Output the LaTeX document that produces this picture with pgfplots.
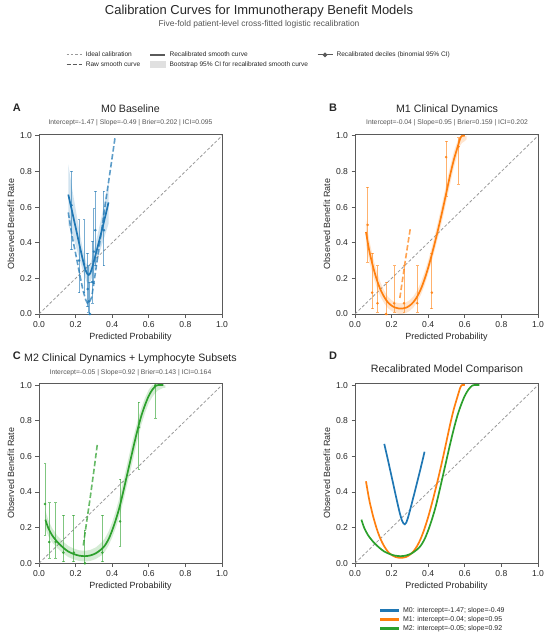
\documentclass[border=0pt]{standalone}
\usepackage{pgfplots}
\pgfplotsset{compat=1.18}
\usepackage{pgfplotstable}
\usepackage{fontspec}
\setmainfont{Liberation Sans}

\definecolor{cA}{HTML}{1F77B4}
\definecolor{cB}{HTML}{FF7F0E}
\definecolor{cC}{HTML}{2CA02C}
\definecolor{axgray}{HTML}{5A5A5A}
\definecolor{txt}{HTML}{262626}
\definecolor{subtxt}{HTML}{555555}
\definecolor{diaggray}{HTML}{9A9A9A}

% ---------- data ----------
\pgfplotstableread{
x y
0.160 0.670
0.170 0.625
0.180 0.580
0.190 0.533
0.200 0.487
0.210 0.440
0.220 0.393
0.230 0.347
0.240 0.302
0.250 0.262
0.258 0.237
0.265 0.224
0.272 0.219
0.280 0.228
0.290 0.258
0.300 0.295
0.310 0.335
0.320 0.375
0.330 0.415
0.340 0.456
0.350 0.497
0.360 0.539
0.370 0.582
0.380 0.626
}\recA
\pgfplotstableread{
x y
0.160 0.840
0.180 0.710
0.200 0.590
0.220 0.470
0.240 0.360
0.260 0.280
0.270 0.270
0.280 0.280
0.300 0.355
0.320 0.445
0.340 0.536
0.360 0.639
0.380 0.746
0.380 0.506
0.360 0.439
0.340 0.376
0.320 0.305
0.300 0.235
0.280 0.178
0.270 0.168
0.260 0.180
0.240 0.242
0.220 0.313
0.200 0.387
0.180 0.450
0.160 0.500
}\bandA
\pgfplotstableread{
x y
0.160 0.570
0.180 0.440
0.200 0.340
0.220 0.235
0.240 0.135
0.255 0.080
0.265 0.060
0.275 0.065
0.288 0.095
0.300 0.175
0.320 0.315
0.340 0.455
0.360 0.600
0.380 0.740
0.400 0.880
0.417 1.000
}\rawA
\pgfplotstableread{
x y lo hi
0.178 0.61 0.36 0.80
0.219 0.30 0.12 0.53
0.246 0.28 0.12 0.53
0.266 0.14 0.04 0.34
0.272 0.07 0.01 0.27
0.278 0.00 0.00 0.18
0.291 0.18 0.06 0.41
0.300 0.35 0.17 0.59
0.308 0.47 0.27 0.69
0.355 0.47 0.27 0.69
}\decA
\pgfplotstableread{
x y
0.178 0.36
0.178 0.80
nan nan
0.219 0.12
0.219 0.53
nan nan
0.246 0.12
0.246 0.53
nan nan
0.266 0.04
0.266 0.34
nan nan
0.272 0.01
0.272 0.27
nan nan
0.278 0.00
0.278 0.18
nan nan
0.291 0.06
0.291 0.41
nan nan
0.300 0.17
0.300 0.59
nan nan
0.308 0.27
0.308 0.69
nan nan
0.355 0.27
0.355 0.69
}\errA

\pgfplotstableread{
x y
0.060 0.460
0.070 0.400
0.080 0.345
0.100 0.260
0.120 0.190
0.140 0.135
0.160 0.095
0.180 0.065
0.200 0.047
0.220 0.036
0.240 0.031
0.260 0.031
0.280 0.036
0.300 0.048
0.320 0.068
0.340 0.098
0.360 0.140
0.380 0.195
0.400 0.260
0.420 0.335
0.440 0.415
0.460 0.500
0.480 0.590
0.500 0.685
0.520 0.780
0.540 0.865
0.560 0.935
0.575 0.985
0.585 1.000
0.600 1.000
}\recB
\pgfplotstableread{
x y
0.060 0.530
0.070 0.465
0.080 0.405
0.100 0.310
0.120 0.235
0.140 0.175
0.160 0.130
0.180 0.097
0.200 0.077
0.220 0.066
0.240 0.061
0.260 0.061
0.280 0.066
0.300 0.078
0.320 0.100
0.340 0.133
0.360 0.177
0.380 0.234
0.400 0.300
0.420 0.377
0.440 0.460
0.460 0.547
0.480 0.638
0.500 0.735
0.520 0.828
0.540 0.910
0.560 0.970
0.575 1.000
0.610 1.000
0.610 0.980
0.600 0.970
0.585 0.960
0.575 0.945
0.560 0.895
0.540 0.820
0.520 0.730
0.500 0.635
0.480 0.540
0.460 0.455
0.440 0.375
0.420 0.298
0.400 0.225
0.380 0.160
0.360 0.107
0.340 0.068
0.320 0.038
0.300 0.018
0.280 0.006
0.260 0.001
0.240 0.001
0.220 0.006
0.200 0.017
0.180 0.033
0.160 0.060
0.140 0.095
0.120 0.145
0.100 0.210
0.080 0.285
0.070 0.335
0.060 0.390
}\bandB
\pgfplotstableread{
x y
0.245 0.090
0.260 0.195
0.275 0.300
0.290 0.400
0.303 0.485
}\rawB
\pgfplotstableread{
x y lo hi
0.069 0.50 0.29 0.71
0.094 0.12 0.03 0.34
0.123 0.06 0.01 0.27
0.170 0.00 0.00 0.18
0.214 0.06 0.01 0.27
0.268 0.06 0.01 0.27
0.340 0.06 0.01 0.27
0.420 0.12 0.03 0.34
0.498 0.88 0.66 0.97
0.565 0.94 0.73 0.99
}\decB
\pgfplotstableread{
x y
0.069 0.29
0.069 0.71
nan nan
0.094 0.03
0.094 0.34
nan nan
0.123 0.01
0.123 0.27
nan nan
0.170 0.00
0.170 0.18
nan nan
0.214 0.01
0.214 0.27
nan nan
0.268 0.01
0.268 0.27
nan nan
0.340 0.01
0.340 0.27
nan nan
0.420 0.03
0.420 0.34
nan nan
0.498 0.66
0.498 0.97
nan nan
0.565 0.73
0.565 0.99
}\errB

\pgfplotstableread{
x y
0.035 0.245
0.050 0.200
0.070 0.160
0.100 0.120
0.130 0.090
0.160 0.066
0.190 0.052
0.220 0.043
0.250 0.040
0.280 0.044
0.310 0.056
0.340 0.078
0.360 0.100
0.380 0.135
0.400 0.185
0.420 0.245
0.440 0.315
0.460 0.400
0.480 0.490
0.500 0.580
0.520 0.670
0.540 0.755
0.560 0.830
0.580 0.890
0.600 0.940
0.620 0.975
0.640 0.997
0.650 1.000
0.680 1.000
}\recC
\pgfplotstableread{
x y
0.035 0.295
0.050 0.245
0.070 0.200
0.100 0.155
0.130 0.123
0.160 0.098
0.190 0.083
0.220 0.073
0.250 0.070
0.280 0.075
0.310 0.089
0.340 0.115
0.360 0.140
0.380 0.178
0.400 0.230
0.420 0.295
0.440 0.370
0.460 0.460
0.480 0.550
0.500 0.640
0.520 0.725
0.540 0.805
0.560 0.875
0.580 0.930
0.600 0.975
0.620 1.000
0.690 1.000
0.690 0.985
0.680 0.985
0.650 0.970
0.640 0.960
0.620 0.935
0.600 0.900
0.580 0.845
0.560 0.780
0.540 0.700
0.520 0.610
0.500 0.520
0.480 0.435
0.460 0.345
0.440 0.265
0.420 0.200
0.400 0.145
0.380 0.100
0.360 0.065
0.340 0.043
0.310 0.024
0.280 0.013
0.250 0.010
0.220 0.013
0.190 0.022
0.160 0.035
0.130 0.057
0.100 0.085
0.070 0.120
0.050 0.155
0.035 0.195
}\bandC
\pgfplotstableread{
x y
0.242 0.100
0.260 0.230
0.280 0.370
0.300 0.520
0.319 0.670
}\rawC
\pgfplotstableread{
x y lo hi
0.033 0.333 0.157 0.559
0.056 0.120 0.030 0.340
0.091 0.120 0.030 0.340
0.133 0.060 0.010 0.270
0.190 0.060 0.010 0.270
0.251 0.000 0.000 0.185
0.346 0.060 0.010 0.270
0.443 0.235 0.096 0.472
0.546 0.763 0.528 0.904
0.636 1.000 0.815 1.000
}\decC
\pgfplotstableread{
x y
0.033 0.157
0.033 0.559
nan nan
0.056 0.030
0.056 0.340
nan nan
0.091 0.030
0.091 0.340
nan nan
0.133 0.010
0.133 0.270
nan nan
0.190 0.010
0.190 0.270
nan nan
0.251 0.000
0.251 0.185
nan nan
0.346 0.010
0.346 0.270
nan nan
0.443 0.096
0.443 0.472
nan nan
0.546 0.528
0.546 0.904
nan nan
0.636 0.815
0.636 1.000
}\errC

\pgfplotsset{
  panel/.style={
    scale only axis, width=183bp, height=180bp,
    xmin=0, xmax=1, ymin=0, ymax=1.01,
    xtick={0,0.2,0.4,0.6,0.8,1}, ytick={0,0.2,0.4,0.6,0.8,1},
    xticklabels={0.0,0.2,0.4,0.6,0.8,1.0},
    yticklabels={0.0,0.2,0.4,0.6,0.8,1.0},
    tick align=outside, tick pos=left, major tick length=3.5bp,
    axis line style={draw=axgray, line width=0.8bp},
    every tick/.style={draw=axgray, line width=0.8bp},
    tick label style={font=\fontsize{8.6}{9}\selectfont, text=txt},
    label style={font=\fontsize{9}{10}\selectfont, text=txt},
    xlabel={Predicted Probability}, ylabel={Observed Benefit Rate},
    xlabel style={at={(axis description cs:0.5,-0.142)}, anchor=base},
    ylabel style={at={(axis description cs:-0.1355,0.5)}, anchor=base},
    clip=true, unbounded coords=jump,
  },
  diag/.style={diaggray, line width=0.8bp, dash pattern=on 3bp off 2bp, forget plot},
  recal/.style={line width=1.7bp, no marks, smooth},
  raw/.style={line width=1.6bp, no marks, dash pattern=on 5.5bp off 2.5bp, opacity=0.72},
  band/.style={draw=none, opacity=0.2},
  ebar/.style={draw=#1, line width=1bp, no marks, opacity=0.6},
  ecap/.style={only marks, mark=-, mark size=1.4bp, mark options={draw=#1, line width=0.8bp}, opacity=0.6},
  edot/.style={only marks, mark=*, mark size=1.1bp, mark options={fill=#1, draw=#1}, opacity=0.8},
  legline/.style={legend image code/.code={\draw[##1] (0bp,0bp) -- (15bp,0bp);}},
  legpatch/.style={legend image code/.code={\fill[##1] (0bp,-3bp) rectangle (15bp,3bp);}},
  legmark/.style={legend image code/.code={\draw[##1] (0bp,0bp) -- (15bp,0bp); \fill[##1] (7.5bp,0bp) circle (1.8bp);}},
  dleg/.style={legend image code/.code={\fill[##1] (0bp,-0.9bp) rectangle (18bp,0.9bp);}},
}

\begin{document}
\begin{tikzpicture}
\useasboundingbox (0bp,0bp) rectangle (550bp,-640bp);

% Titles
\node[anchor=base, font=\fontsize{13}{15}\selectfont, text=txt] at (259bp,-14bp) {Calibration Curves for Immunotherapy Benefit Models};
\node[anchor=base, font=\fontsize{8.5}{10}\selectfont, text=subtxt] at (259bp,-26.4bp) {Five-fold patient-level cross-fitted logistic recalibration};

% Legend holder axis (whole page)
\begin{axis}[at={(0bp,-640bp)}, anchor=south west, scale only axis, width=550bp, height=640bp,
  xmin=0, xmax=1, ymin=0, ymax=1, hide axis,
  legend columns=3, legend cell align=left,
  legend style={draw=none, fill=none, at={(axis description cs:0.1195,0.9195)}, anchor=north west,
    font=\fontsize{6.6}{7}\selectfont, text=txt, inner sep=0bp, row sep=3.2bp,
    nodes={inner sep=0bp, text height=4.9bp, text depth=1.4bp},
    /tikz/every odd column/.append style={column sep=3.5bp},
    /tikz/every even column/.append style={column sep=9bp}}]
\addlegendimage{legline, diaggray, line width=0.8bp, dash pattern=on 2.5bp off 1.8bp}
\addlegendentry{Ideal calibration}
\addlegendimage{legline, axgray, line width=1.8bp}
\addlegendentry{Recalibrated smooth curve}
\addlegendimage{legmark, axgray, line width=1bp}
\addlegendentry{Recalibrated deciles (binomial 95\% CI)}
\addlegendimage{legline, axgray, line width=1.4bp, dash pattern=on 4bp off 2bp}
\addlegendentry{Raw smooth curve}
\addlegendimage{legpatch, black!12}
\addlegendentry{Bootstrap 95\% CI for recalibrated smooth curve}
\end{axis}

% Bottom legend holder axis (whole page)
\begin{axis}[at={(0bp,-640bp)}, anchor=south west, scale only axis, width=550bp, height=640bp,
  xmin=0, xmax=1, ymin=0, ymax=1, hide axis,
  legend columns=1, legend cell align=left,
  legend style={draw=none, fill=none, at={(axis description cs:0.6909,0.0516)}, anchor=north west,
    font=\fontsize{7}{8}\selectfont, text=txt, inner sep=0bp, row sep=2.2bp,
    nodes={inner sep=0bp, text height=5.2bp, text depth=1.6bp},
    /tikz/every odd column/.append style={column sep=4.5bp}}]
\addlegendimage{dleg, cA}
\addlegendentry{M0: intercept=-1.47; slope=-0.49}
\addlegendimage{dleg, cB}
\addlegendentry{M1: intercept=-0.04; slope=0.95}
\addlegendimage{dleg, cC}
\addlegendentry{M2: intercept=-0.05; slope=0.92}
\end{axis}

% Panel A
\begin{axis}[panel, at={(39bp,-314bp)}, anchor=south west]
\addplot[diag] coordinates {(0,0) (1,1)};
\addplot[band, fill=cA] table[x=x,y=y] {\bandA};
\addplot[ebar=cA] table[x=x,y=y] {\errA};
\addplot[ecap=cA] table[x=x,y=lo] {\decA};
\addplot[ecap=cA] table[x=x,y=hi] {\decA};
\addplot[edot=cA] table[x=x,y=y] {\decA};
\addplot[raw, cA] table[x=x,y=y] {\rawA};
\addplot[recal, cA] table[x=x,y=y] {\recA};
\end{axis}

% Panel B
\begin{axis}[panel, at={(355bp,-314bp)}, anchor=south west]
\addplot[diag] coordinates {(0,0) (1,1)};
\addplot[band, fill=cB] table[x=x,y=y] {\bandB};
\addplot[ebar=cB] table[x=x,y=y] {\errB};
\addplot[ecap=cB] table[x=x,y=lo] {\decB};
\addplot[ecap=cB] table[x=x,y=hi] {\decB};
\addplot[edot=cB] table[x=x,y=y] {\decB};
\addplot[raw, cB] table[x=x,y=y] {\rawB};
\addplot[recal, cB] table[x=x,y=y] {\recB};
\end{axis}

% Panel C
\begin{axis}[panel, at={(39bp,-563.3bp)}, anchor=south west]
\addplot[diag] coordinates {(0,0) (1,1)};
\addplot[band, fill=cC] table[x=x,y=y] {\bandC};
\addplot[ebar=cC] table[x=x,y=y] {\errC};
\addplot[ecap=cC] table[x=x,y=lo] {\decC};
\addplot[ecap=cC] table[x=x,y=hi] {\decC};
\addplot[edot=cC] table[x=x,y=y] {\decC};
\addplot[raw, cC] table[x=x,y=y] {\rawC};
\addplot[recal, cC] table[x=x,y=y] {\recC};
\end{axis}

% Panel D
\begin{axis}[panel, at={(355bp,-563.3bp)}, anchor=south west]
\addplot[diag] coordinates {(0,0) (1,1)};
\addplot[recal, cA] table[x=x,y=y] {\recA};
\addplot[recal, cB] table[x=x,y=y] {\recB};
\addplot[recal, cC] table[x=x,y=y] {\recC};
\end{axis}

% Panel letters, titles and statistics
\node[anchor=base west, font=\bfseries\fontsize{11}{12}\selectfont, text=txt] at (9.3bp,-111.3bp) {A};
\node[anchor=base west, font=\bfseries\fontsize{11}{12}\selectfont, text=txt] at (325.7bp,-111.3bp) {B};
\node[anchor=base west, font=\bfseries\fontsize{11}{12}\selectfont, text=txt] at (9.3bp,-359.5bp) {C};
\node[anchor=base west, font=\bfseries\fontsize{11}{12}\selectfont, text=txt] at (325.7bp,-359.5bp) {D};

\node[anchor=base, font=\fontsize{10.7}{12}\selectfont, text=txt] at (130.5bp,-112.8bp) {M0 Baseline};
\node[anchor=base, font=\fontsize{10.7}{12}\selectfont, text=txt] at (447bp,-112.8bp) {M1 Clinical Dynamics};
\node[anchor=base, font=\fontsize{10.7}{12}\selectfont, text=txt] at (130.5bp,-361.5bp) {M2 Clinical Dynamics + Lymphocyte Subsets};
\node[anchor=base, font=\fontsize{10.7}{12}\selectfont, text=txt] at (447bp,-372.8bp) {Recalibrated Model Comparison};

\node[anchor=base, font=\fontsize{6.8}{8}\selectfont, text=subtxt] at (130.5bp,-124.4bp) {Intercept=-1.47 | Slope=-0.49 | Brier=0.202 | ICI=0.095};
\node[anchor=base, font=\fontsize{6.8}{8}\selectfont, text=subtxt] at (447bp,-124.4bp) {Intercept=-0.04 | Slope=0.95 | Brier=0.159 | ICI=0.202};
\node[anchor=base, font=\fontsize{6.8}{8}\selectfont, text=subtxt] at (130.5bp,-374.7bp) {Intercept=-0.05 | Slope=0.92 | Brier=0.143 | ICI=0.164};
\end{tikzpicture}
\end{document}
